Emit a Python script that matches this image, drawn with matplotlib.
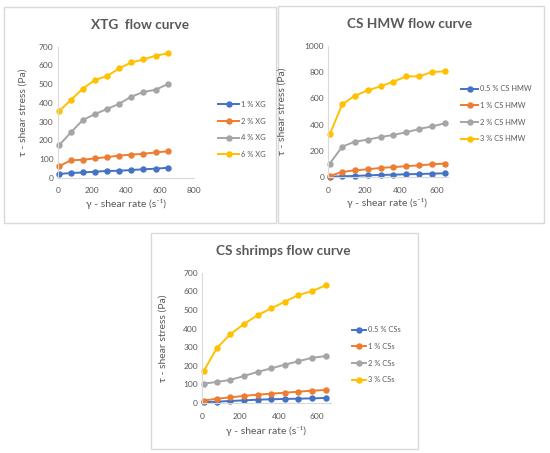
import matplotlib
matplotlib.use("Agg")
import matplotlib.pyplot as plt
from matplotlib.patches import Rectangle

# ---------------- data ----------------
shear_rate = [8, 77, 147, 218, 289, 360, 431, 502, 573, 644]

xtg_labels = ["1 % XG", "2 % XG", "4 % XG", "6 % XG"]
xtg_1 = [20, 25, 28, 32, 36, 37, 41, 45, 48, 53]
xtg_2 = [61, 93, 96, 103, 110, 118, 123, 128, 135, 141]
xtg_4 = [173, 242, 308, 340, 367, 395, 433, 458, 470, 500]
xtg_6 = [356, 415, 476, 522, 543, 584, 616, 632, 652, 664]

hmw_labels = ["0.5 % CS HMW", "1 % CS HMW", "2 % CS HMW", "3 % CS HMW"]
hmw_05 = [5, 8, 10, 15, 18, 20, 23, 25, 28, 30]
hmw_1 = [10, 41, 53, 61, 71, 78, 84, 91, 99, 104]
hmw_2 = [104, 233, 271, 286, 306, 322, 342, 367, 387, 410]
hmw_3 = [327, 554, 620, 661, 691, 727, 767, 767, 800, 805]

css_labels = ["0.5 % CSs", "1 % CSs", "2 % CSs", "3 % CSs"]
css_05 = [4, 7, 11, 14, 18, 20, 22, 23, 25, 27]
css_1 = [13, 23, 30, 38, 45, 50, 55, 61, 66, 70]
css_2 = [104, 113, 124, 145, 167, 186, 206, 224, 243, 252]
css_3 = [170, 295, 369, 424, 472, 508, 544, 580, 601, 632]

titles = ["XTG  flow curve", "CS HMW flow curve", "CS shrimps flow curve"]
xlabel = "γ - shear rate (s⁻¹)"
ylabel = "τ - shear stress (Pa)"

colors = ["#4472C4", "#ED7D31", "#A5A5A5", "#FFC000"]
TXT = "#595959"
FAM = ["Lato", "DejaVu Sans"]

W, H = 550, 453
fig = plt.figure(figsize=(W / 100, H / 100), dpi=100)
fig.patch.set_facecolor("white")

TITLE_FS = 9.8
LABEL_FS = 7.5
TICK_FS = 6.0
LEG_FS = 5.4


def fx(x):
    return x / W


def fy(y):
    return 1 - y / H


def box(x0, x1, y0, y1):
    fig.patches.append(Rectangle((fx(x0), fy(y1)), (x1 - x0) / W, (y1 - y0) / H,
                                 transform=fig.transFigure, fill=False,
                                 edgecolor="#d9d9d9", linewidth=1.0))


def make_axes(x0, x1, ytop, ybot, xlim, ylim, xticks, yticks):
    ax = fig.add_axes([fx(x0), fy(ybot), (x1 - x0) / W, (ybot - ytop) / H])
    ax.set_xlim(*xlim)
    ax.set_ylim(*ylim)
    ax.set_xticks(xticks)
    ax.set_yticks(yticks)
    for s in ["top", "right"]:
        ax.spines[s].set_visible(False)
    for s in ["left", "bottom"]:
        ax.spines[s].set_color("#d9d9d9")
        ax.spines[s].set_linewidth(0.8)
    ax.tick_params(length=0, labelsize=TICK_FS, labelcolor=TXT)
    ax.tick_params(axis="x", pad=7)
    ax.tick_params(axis="y", pad=3)
    for lab in ax.get_xticklabels() + ax.get_yticklabels():
        lab.set_family(FAM)
    ax.patch.set_alpha(0)
    return ax


def draw(ax, series, labels):
    for ys, lab, c in zip(series, labels, colors):
        ax.plot(shear_rate, ys, color=c, linewidth=1.4, marker="o",
                markersize=3.6, label=lab, clip_on=False)


def legend(ax, x_line, y_first, handlelength):
    leg = ax.legend(loc="upper left", bbox_to_anchor=(fx(x_line), fy(y_first - 3.5)),
                    bbox_transform=fig.transFigure, frameon=False,
                    prop={"family": FAM, "size": LEG_FS}, handlelength=handlelength,
                    handletextpad=0.3, labelspacing=1.3, borderaxespad=0,
                    borderpad=0, labelcolor=TXT)
    return leg


# panel borders
box(4, 275.6, 7, 223)
box(278, 544, 6, 223)
box(150.7, 417.7, 233, 449)

# --- top-left
ax1 = make_axes(57.7, 194.3, 46.7, 177.7, (0, 800), (0, 700),
                [0, 200, 400, 600, 800], range(0, 701, 100))
draw(ax1, [xtg_1, xtg_2, xtg_4, xtg_6], xtg_labels)
legend(ax1, 218, 104.3, 2.8)
fig.text(fx(140), fy(25), titles[0], ha="center", va="center", fontsize=TITLE_FS,
         fontweight="bold", color=TXT, family=FAM)
fig.text(fx(23), fy(112), ylabel, ha="center", va="center", rotation=90,
         fontsize=LABEL_FS, color=TXT, family=FAM)
fig.text(fx(126), fy(204), xlabel, ha="center", va="center",
         fontsize=LABEL_FS, color=TXT, family=FAM)

# --- top-right
ax2 = make_axes(328.3, 448, 45.7, 177.3, (0, 662), (0, 1000),
                [0, 200, 400, 600], range(0, 1001, 200))
draw(ax2, [hmw_05, hmw_1, hmw_2, hmw_3], hmw_labels)
legend(ax2, 461, 88.7, 2.3)
fig.text(fx(410), fy(24), titles[1], ha="center", va="center", fontsize=TITLE_FS,
         fontweight="bold", color=TXT, family=FAM)
fig.text(fx(282.5), fy(111), ylabel, ha="center", va="center", rotation=90,
         fontsize=LABEL_FS, color=TXT, family=FAM)
fig.text(fx(387), fy(203), xlabel, ha="center", va="center",
         fontsize=LABEL_FS, color=TXT, family=FAM)

# --- bottom
ax3 = make_axes(202, 330.7, 272.7, 403, (0, 670), (0, 700),
                [0, 200, 400, 600], range(0, 701, 100))
draw(ax3, [css_05, css_1, css_2, css_3], css_labels)
legend(ax3, 351.7, 329.7, 1.9)
fig.text(fx(283), fy(251), titles[2], ha="center", va="center", fontsize=TITLE_FS,
         fontweight="bold", color=TXT, family=FAM)
fig.text(fx(163), fy(338), ylabel, ha="center", va="center", rotation=90,
         fontsize=LABEL_FS, color=TXT, family=FAM)
fig.text(fx(266), fy(431), xlabel, ha="center", va="center",
         fontsize=LABEL_FS, color=TXT, family=FAM)

fig.savefig("out.png", dpi=100, facecolor="white")
